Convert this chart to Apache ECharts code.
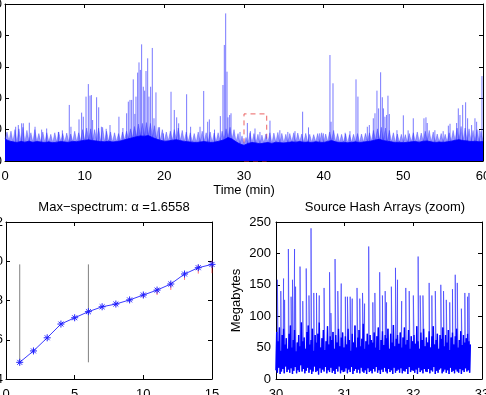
<!DOCTYPE html>
<html>
<head>
<meta charset="utf-8">
<script src="https://cdn.jsdelivr.net/npm/echarts@6/dist/echarts.min.js"></script>
<style>
html, body { margin: 0; padding: 0; background: #fff; }
#main { width: 486px; height: 395px; }
</style>
</head>
<body>
<div id="main"></div>
<script>
// top panel: 60 min trace, band envelopes sampled every 0.5 min
var topBand = [
  140,128,122,118,125,120,126,119,124,121,118,
  122,117,120,124,121,119,125,123,128,132,
  135,130,127,124,122,126,121,124,128,135,
  142,148,155,160,158,162,150,140,132,126,
  128,132,136,130,125,122,120,118,121,124,
  120,118,122,128,135,150,140,122,108,100,
  112,118,115,110,114,118,112,120,117,115,
  118,122,120,124,119,121,118,123,120,118,
  125,130,122,118,120,116,119,122,118,121,
  124,128,134,138,130,126,122,118,120,117,
  119,122,124,120,126,128,122,118,121,119,
  122,126,132,136,130,128,124,126,122,125
];
var topFuzz = [
  185,190,200,205,215,195,180,200,175,185,180,
  170,180,185,175,178,172,190,180,200,210,
  205,200,210,215,190,185,180,175,185,190,
  205,220,235,240,245,240,225,215,200,185,
  190,200,210,195,185,180,175,185,190,180,
  185,178,180,190,205,215,200,175,160,150,
  180,175,170,165,172,180,178,182,176,170,
  175,180,178,172,176,170,168,175,180,172,
  185,195,175,170,172,168,170,175,172,176,
  180,195,205,215,210,195,180,172,170,168,
  175,180,185,178,190,195,185,172,175,170,
  180,195,210,220,210,205,195,200,190,200
];
var topSpikes = [
  [1.34,218],[1.67,229],[2.09,240],[2.3,240],[3.05,244],[3.77,218],[4.6,200],[5.23,207],[6.7,185],[7.2,195],
  [8.07,357],[8.28,218],[9.29,265],[9.62,308],[9.83,282],[10.17,410],[10.46,490],[10.67,416],[10.84,420],[11.0,261],
  [11.5,406],[11.76,342],[12.1,218],[12.7,205],[13.18,229],[14.3,282],[14.8,210],[15.27,304],[15.48,378],[15.69,389],
  [15.9,389],[16.1,520],[16.3,300],[16.44,410],[16.65,563],[16.82,628],[16.99,580],[17.15,743],[17.36,473],[17.53,448],
  [17.7,573],[17.91,654],[18.07,410],[18.28,473],[18.49,720],[18.7,272],[18.95,437],[19.4,215],[19.87,176],[20.84,441],
  [21.25,325],[21.55,278],[21.8,240],[22.8,425],[23.3,218],[24.48,218],[24.94,446],[25.44,250],[25.65,265],[26.3,200],
  [27.03,286],[27.36,484],[27.53,739],[27.7,940],[27.87,569],[27.99,278],[28.2,293],[28.37,304],[29.5,185],[30.42,242],
  [30.8,190],[31.38,207],[32.0,185],[33.26,257],[34.5,196],[35.5,185],[36.4,190],[37.36,314],[38.1,214],[39.5,176],
  [39.96,176],[40.79,675],[40.93,250],[41.17,495],[42.7,180],[43.3,190],[44.06,520],[44.3,410],[45.48,218],[45.73,229],
  [46.23,272],[46.44,304],[46.69,448],[46.9,335],[47.15,565],[47.36,406],[47.5,335],[47.69,282],[47.9,293],[48.07,416],
  [48.24,299],[49.2,196],[50.0,291],[50.6,195],[51.25,272],[52.59,272],[52.84,278],[53.0,242],[53.96,196],[55.0,190],
  [55.65,225],[55.86,237],[56.69,242],[56.9,335],[57.11,293],[57.45,357],[57.82,374],[58.07,272],[58.57,229],[58.99,272],
  [59.2,250],[59.53,196],[59.87,541]
];
var zoomBox = [[30, 0], [32.85, 300]];

// bottom left: max-spectrum
var msX = [1,2,3,4,5,6,7,8,9,10,11,12,13,14,15];
var msY = [4.85,5.43,6.10,6.80,7.12,7.43,7.68,7.82,8.03,8.28,8.53,8.84,9.35,9.67,9.84];
var msErrDown = [0,0,0,0,0,0,0.05,0.08,0.12,0.15,0.25,0.3,0.3,0.3,0.45];
var msErrUp = [0,0,0,0,0,0,0.03,0.05,0.06,0.08,0.08,0.1,0.1,0.15,0.2];
var cutX = [1, 6];
var cutLo = 4.85, cutHi = 9.84;

// bottom right: zoom 30..32.82 min, noise every 0.02 min + tall spikes
var zoomHigh = [
  75,60,82,45,70,80,55,65,48,72,
  85,50,62,78,44,58,70,52,90,60,
  66,48,75,85,55,62,80,45,70,58,
  72,90,50,65,78,46,60,84,55,68,
  62,75,48,70,58,80,52,66,74,50,
  68,55,80,62,45,72,58,85,50,66,
  78,52,64,88,48,60,72,55,70,62,
  58,74,50,68,82,46,62,76,54,70,
  65,80,48,72,58,86,52,64,70,56,
  74,50,66,82,55,62,78,48,68,60,
  70,56,84,60,48,74,62,80,52,66,
  58,76,50,68,84,55,62,72,48,70,
  64,82,52,70,58,78,46,66,74,55,
  68,80,50,62,76,54,70,58,65,72,
  60,55
];
var zoomLow = [
  14,10,18,8,12,16,9,20,11,15,
  10,17,8,13,19,9,14,11,22,12,
  16,9,13,18,10,15,8,12,20,11,
  13,7,17,10,15,12,19,9,14,11,
  18,10,13,8,16,12,20,9,14,11,
  12,17,9,15,11,19,8,13,16,10,
  15,9,18,12,10,14,8,17,11,13,
  9,16,12,19,10,14,8,15,11,18,
  12,9,16,11,14,8,18,10,13,15,
  10,17,9,13,12,16,8,19,11,14,
  13,10,15,8,18,11,14,9,16,12,
  11,16,9,14,12,19,8,13,10,15,
  17,9,12,15,10,14,8,18,11,13,
  9,15,12,10,16,8,14,11,17,12,
  14,10
];
var zoomSpikes = [
  [30.02,158],[30.07,140],[30.11,160],[30.125,126],[30.18,207],[30.22,131],[30.24,158],[30.27,207],[30.285,147],[30.35,179],
  [30.39,124],[30.44,176],[30.48,133],[30.51,240],[30.55,137],[30.59,137],[30.63,133],[30.70,145],[30.78,170],[30.80,105],
  [30.86,191],[30.90,140],[30.95,152],[31.01,131],[31.04,131],[31.08,131],[31.11,128],[31.18,145],[31.22,128],[31.26,137],
  [31.29,120],[31.35,211],[31.41,122],[31.44,137],[31.51,170],[31.55,133],[31.59,140],[31.61,122],[31.68,147],[31.74,177],
  [31.77,158],[31.83,124],[31.89,145],[31.94,140],[32.0,133],[32.07,195],[32.10,133],[32.14,133],[32.23,153],[32.27,133],
  [32.32,140],[32.40,150],[32.44,140],[32.48,126],[32.53,122],[32.57,143],[32.61,166],[32.64,153],[32.70,112],[32.75,137],
  [32.79,131],[32.81,137]
];

var font = 'Liberation Sans, Arial, Helvetica, sans-serif';
var chart = echarts.init(document.getElementById('main'));

function halfStep(arr, start, step) {
  var out = [];
  for (var i = 0; i < arr.length; i++) out.push([start + i * step, arr[i]]);
  return out;
}

// jagged edge: alternate band and fuzz samples
var fuzzLine = [];
for (var k = 0; k < topFuzz.length; k++) {
  fuzzLine.push([k * 0.5, topBand[k]]);
  if (k < topFuzz.length - 1) fuzzLine.push([k * 0.5 + 0.25, topFuzz[k]]);
}

var zoomNoise = [];
for (var i = 0; i < zoomHigh.length; i++) {
  zoomNoise.push([30 + i * 0.02, zoomLow[i]]);
  zoomNoise.push([30 + i * 0.02 + 0.01, zoomHigh[i]]);
}
var zoomLine = zoomNoise.concat(zoomSpikes).sort(function(a, b) { return a[0] - b[0]; });

function plain(v) { return String(v); }

function xAx(grid, min, max, step, pos) {
  var mirror = pos === 'top';
  return {
    type: 'value', gridIndex: grid, min: min, max: max, interval: step, position: pos,
    axisLine: { show: true, onZero: false, lineStyle: { color: '#000', width: 1 } },
    axisTick: { show: true, inside: true, length: 4, lineStyle: { color: '#000' } },
    axisLabel: { show: !mirror, margin: 9, color: '#000', fontSize: 13, fontFamily: font, formatter: plain },
    splitLine: { show: false }
  };
}
function yAx(grid, min, max, step, pos) {
  var mirror = pos === 'right';
  return {
    type: 'value', gridIndex: grid, min: min, max: max, interval: step, position: pos,
    axisLine: { show: true, onZero: false, lineStyle: { color: '#000', width: 1 } },
    axisTick: { show: true, inside: true, length: 4, lineStyle: { color: '#000' } },
    axisLabel: { show: !mirror, margin: 3, color: '#000', fontSize: 13, fontFamily: font, formatter: plain },
    splitLine: { show: false }
  };
}

var xAxes = [
  xAx(0, 0, 60, 10, 'bottom'), xAx(0, 0, 60, 10, 'top'),
  xAx(1, 0, 15, 5, 'bottom'), xAx(1, 0, 15, 5, 'top'),
  xAx(2, 30, 33, 1, 'bottom'), xAx(2, 30, 33, 1, 'top')
];
xAxes[0].name = 'Time (min)';
xAxes[0].nameLocation = 'middle';
xAxes[0].nameGap = 23;
xAxes[0].nameTextStyle = { color: '#000', fontSize: 13, fontFamily: font };

var yAxes = [
  yAx(0, 0, 1000, 200, 'left'), yAx(0, 0, 1000, 200, 'right'),
  yAx(1, 4, 12, 2, 'left'), yAx(1, 4, 12, 2, 'right'),
  yAx(2, 0, 250, 50, 'left'), yAx(2, 0, 250, 50, 'right')
];
yAxes[4].axisLabel.margin = 5;
yAxes[4].name = 'Megabytes';
yAxes[4].nameLocation = 'middle';
yAxes[4].nameRotate = 90;
yAxes[4].nameGap = 33;
yAxes[4].nameTextStyle = { color: '#000', fontSize: 13, fontFamily: font };

function vline(color, width) {
  return function(params, api) {
    var p1 = api.coord([api.value(0), api.value(1)]);
    var p2 = api.coord([api.value(0), api.value(2)]);
    return { type: 'line', shape: { x1: p1[0], y1: p1[1], x2: p2[0], y2: p2[1] },
             style: { stroke: color, lineWidth: width } };
  };
}

var gridBase = { containLabel: false, outerBoundsMode: 'none' };
function mkGrid(l, t, w, h) {
  return Object.assign({ left: l, top: t, width: w, height: h }, gridBase);
}

var option = {
  animation: false,
  backgroundColor: '#fff',
  title: [
    { text: 'Max\u2212spectrum: \u03b1 =1.6558', left: 109, top: 196, textAlign: 'center',
      textStyle: { fontSize: 13, fontWeight: 'normal', color: '#000', fontFamily: font } },
    { text: 'Source Hash Arrays (zoom)', left: 380, top: 196, textAlign: 'center',
      textStyle: { fontSize: 13, fontWeight: 'normal', color: '#000', fontFamily: font } }
  ],
  grid: [
    mkGrid(5, 4, 478, 157),
    mkGrid(6, 222, 206, 157),
    mkGrid(276, 222, 206, 157)
  ],
  xAxis: xAxes,
  yAxis: yAxes,
  series: [
    { type: 'line', xAxisIndex: 0, yAxisIndex: 0, data: fuzzLine, showSymbol: false,
      lineStyle: { width: 0.6, color: 'rgba(40,40,255,0.55)' }, areaStyle: { color: 'rgba(40,40,255,0.5)', opacity: 1 } },
    { type: 'custom', xAxisIndex: 0, yAxisIndex: 0, renderItem: vline('rgba(30,30,255,0.6)', 1),
      data: topSpikes.map(function(s) { return [s[0], 0, s[1]]; }) },
    { type: 'line', xAxisIndex: 0, yAxisIndex: 0, data: halfStep(topBand, 0, 0.5), showSymbol: false,
      lineStyle: { width: 0.8, color: '#0000ff' }, areaStyle: { color: '#0000ff', opacity: 1 } },
    { type: 'line', xAxisIndex: 0, yAxisIndex: 0, z: 10, data: [zoomBox[0]], showSymbol: false,
      lineStyle: { opacity: 0 },
      markArea: { silent: true, itemStyle: { color: 'rgba(0,0,0,0)', borderColor: 'rgba(230,60,60,0.8)', borderWidth: 1, borderType: [5, 4] },
        data: [[{ coord: zoomBox[0] }, { coord: zoomBox[1] }]] } },

    { type: 'custom', xAxisIndex: 2, yAxisIndex: 2, renderItem: vline('#808080', 1),
      data: cutX.map(function(x) { return [x, cutLo, cutHi]; }) },
    { type: 'custom', xAxisIndex: 2, yAxisIndex: 2, z: 3, renderItem: vline('rgba(255,0,0,0.55)', 1),
      data: msX.map(function(x, i) { return [x, msY[i] - msErrDown[i], msY[i] + msErrUp[i]]; }) },
    { type: 'line', xAxisIndex: 2, yAxisIndex: 2, z: 4,
      data: msX.map(function(x, i) { return [x, msY[i]]; }),
      symbol: 'path://M0,-5L0,5M-5,0L5,0M-3.5,-3.5L3.5,3.5M-3.5,3.5L3.5,-3.5', symbolSize: 7,
      lineStyle: { color: '#3a3aff', width: 1 },
      itemStyle: { color: '#2020ff', borderColor: '#2020ff', borderWidth: 1 } },

    { type: 'line', xAxisIndex: 4, yAxisIndex: 4, data: zoomLine, showSymbol: false,
      lineStyle: { color: 'rgba(60,60,255,0.85)', width: 0.8 } },
    { type: 'line', xAxisIndex: 4, yAxisIndex: 4, data: zoomNoise, showSymbol: false,
      lineStyle: { color: '#0000ff', width: 1.4 } }
  ]
};
chart.setOption(option);
</script>
</body>
</html>
